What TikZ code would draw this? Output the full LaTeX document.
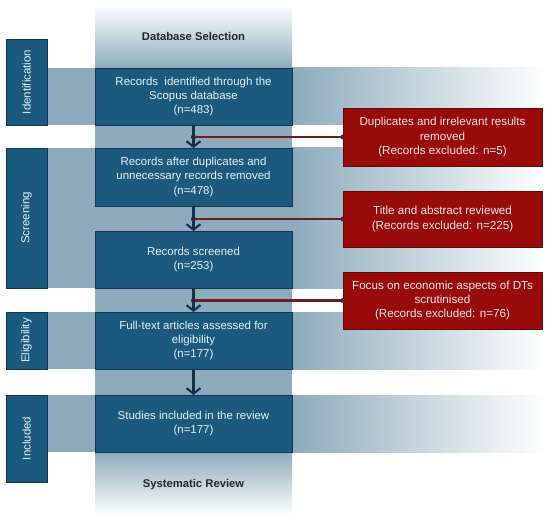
\documentclass[tikz,border=0pt]{standalone}
\usepackage{fontspec}
\setmainfont{Liberation Sans}
\usetikzlibrary{arrows.meta}
\definecolor{boxblue}{HTML}{1B5A7E}
\definecolor{boxedge}{HTML}{12344C}
\definecolor{bandblue}{HTML}{8DABBC}
\definecolor{redbox}{HTML}{990B0B}
\definecolor{rededge}{HTML}{5E0A0A}
\definecolor{redline}{HTML}{6A2020}
\definecolor{arrowc}{HTML}{14304A}
\definecolor{lighttext}{HTML}{E6F1F7}
\definecolor{redtext}{HTML}{FBE4E4}
\tikzset{
  mainbox/.style={draw=boxedge, line width=0.8bp, fill=boxblue, text=lighttext,
    align=center, inner sep=1bp, outer sep=0pt, minimum width=197bp,
    font=\fontsize{11.5}{14.2}\selectfont},
  labbox/.style={draw=boxedge, line width=0.8bp, fill=boxblue, text=lighttext,
    rotate=90, inner sep=1bp, outer sep=0pt, minimum height=41bp,
    font=\fontsize{11.5}{13}\selectfont},
  redbx/.style={draw=rededge, line width=0.6bp, fill=redbox, text=redtext,
    align=center, inner sep=1bp, outer sep=0pt, minimum width=199bp,
    font=\fontsize{11.7}{14.5}\selectfont},
  header/.style={font=\fontsize{11.3}{13}\selectfont\bfseries, text=black!85},
  flow/.style={draw=arrowc, line width=2.1bp, -{Straight Barb[length=5.5bp,width=14bp]}},
  exclline/.style={draw=redline, line width=2.2bp},
  dotc/.style={fill=redline}
}
\begin{document}
\begin{tikzpicture}[x=1bp,y=-1bp]
\useasboundingbox (0,0) rectangle (550,522);
% central column
\shade[top color=white, bottom color=bandblue] (95,5) rectangle (292,68);
\fill[bandblue] (95,68) rectangle (292,452);
\shade[top color=bandblue, bottom color=white] (95,452) rectangle (292,515);
% phase bands
\foreach \ya/\yb in {68/125, 148/288, 312/369, 395/452}{
  \fill[bandblue] (47,\ya) rectangle (292,\yb);
  \shade[left color=bandblue, right color=white] (292,\ya) rectangle (545,\yb);
}
% headers
\node[header] (hdtop) at (193.5,36) {Database Selection};
\node[header] (hdbot) at (193.5,485) {Systematic Review};
% phase labels
\node[labbox, minimum width=86bp] (lab1) at (26.5,82) {Identification};
\node[labbox, minimum width=140bp] (lab2) at (26.5,218) {Screening};
\node[labbox, minimum width=57bp] (lab3) at (26.5,340.5) {Eligibility};
\node[labbox, minimum width=87bp] (lab4) at (26.5,438.5) {Included};
% main boxes
\node[mainbox, minimum height=57bp] (box1) at (193.5,96.5) {Records\ \ identified through the\\Scopus database\\(n=483)};
\node[mainbox, minimum height=58bp] (box2) at (193.5,177) {Records after duplicates and\\unnecessary records removed\\(n=478)};
\node[mainbox, minimum height=57bp] (box3) at (193.5,259.5) {Records screened\\(n=253)};
\node[mainbox, minimum height=57bp] (box4) at (193.5,340.5) {Full-text articles assessed for\\eligibility\\(n=177)};
\node[mainbox, minimum height=57bp] (box5) at (193.5,423.5) {Studies included in the review\\(n=177)};
% exclusion boxes
\node[redbx, minimum height=58bp] (red1) at (442.5,137) {Duplicates and irrelevant results\\removed\\(Records excluded: n=5)};
\node[redbx, minimum height=56bp] (red2) at (442.5,219) {Title and abstract reviewed\\(Records excluded: n=225)};
\node[redbx, minimum height=57bp] (red3) at (442.5,300.5) {Focus on economic aspects of DTs\\scrutinised\\(Records excluded: n=76)};
% exclusion connectors
\coordinate (j1) at (box1.south |- red1.west);
\coordinate (j2) at (box2.south |- red2.west);
\coordinate (j3) at (box3.south |- red3.west);
\foreach \j/\r in {j1/red1, j2/red2, j3/red3}{
  \draw[exclline] (\j) -- (\r.west);
  \fill[dotc] (\j) circle (2.6bp);
  \fill[dotc] (\r.west) circle (2.6bp);
}
% flow arrows
\draw[flow] (box1.south) -- (box2.north);
\draw[flow] (box2.south) -- (box3.north);
\draw[flow] (box3.south) -- (box4.north);
\draw[flow] (box4.south) -- (box5.north);
\end{tikzpicture}
\end{document}
